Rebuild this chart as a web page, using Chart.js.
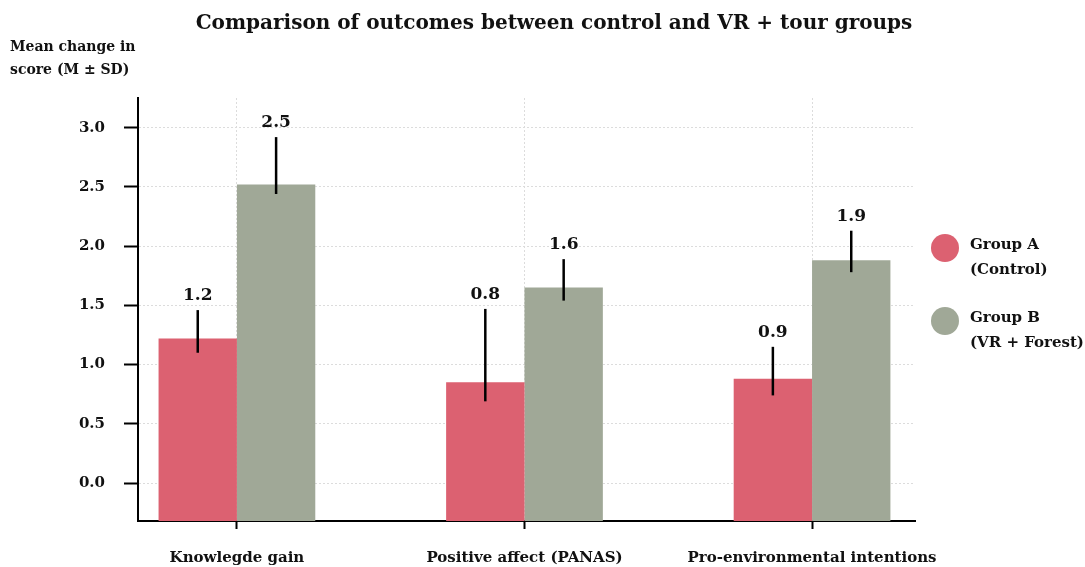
<!DOCTYPE html>
<html lang="en">
<head>
    <meta charset="UTF-8">
    <title>Comparison of outcomes</title>
    <script src="https://cdn.jsdelivr.net/npm/chart.js"></script>
    <style>
        html, body { margin: 0; padding: 0; background: #fff; }
        .wrap { position: relative; width: 1085px; height: 567px; overflow: hidden; }
        canvas { display: block; }
        .title {
            position: absolute; left: 0; top: 10px; width: 1108px; text-align: center;
            font: bold 20px 'DejaVu Serif', serif; color: #111; white-space: nowrap;
        }
        .ytitle {
            position: absolute; left: 10px; top: 35px;
            font: bold 14px 'DejaVu Serif', serif; line-height: 23px; color: #111;
        }
        .legend { position: absolute; left: 931px; top: 232px; font: bold 15px 'DejaVu Serif', serif; color: #111; }
        .legend .item { position: relative; padding-left: 39px; line-height: 25px; margin-bottom: 23px; }
        .legend .dot { position: absolute; left: 0; top: 2px; width: 28px; height: 28px; border-radius: 50%; }
    </style>
</head>
<body>
    <div class="wrap">
        <canvas id="outcomes" width="1085" height="567"></canvas>
        <div class="title">Comparison of outcomes between control and VR + tour groups</div>
        <div class="ytitle">Mean change in<br>score (M ± SD)</div>
        <div class="legend" id="legend"></div>
    </div>
    <script>
        const categories = ['Knowlegde gain', 'Positive affect (PANAS)', 'Pro-environmental intentions'];
        const groupNames = [['Group A', '(Control)'], ['Group B', '(VR + Forest)']];

        const groupA = [1.22, 0.85, 0.88];
        const groupB = [2.52, 1.65, 1.88];

        // error bar ends
        const errLowA = [1.10, 0.69, 0.74];
        const errHighA = [1.46, 1.47, 1.15];
        const errLowB = [2.44, 1.54, 1.78];
        const errHighB = [2.92, 1.89, 2.13];

        const yTicks = [0, 0.5, 1.0, 1.5, 2.0, 2.5, 3.0];
        const yMin = -0.32, yMax = 3.25;

        const colorA = 'rgb(220, 97, 113)';
        const colorB = 'rgb(160, 168, 151)';
        const serif = 'DejaVu Serif';

        const errors = [[errLowA, errHighA], [errLowB, errHighB]];

        const errorBars = {
            id: 'errorBars',
            afterDatasetsDraw(chart) {
                const ctx = chart.ctx;
                const y = chart.scales.y;
                chart.data.datasets.forEach((ds, di) => {
                    const meta = chart.getDatasetMeta(di);
                    meta.data.forEach((bar, i) => {
                        const top = y.getPixelForValue(errors[di][1][i]);
                        const bot = y.getPixelForValue(errors[di][0][i]);
                        ctx.save();
                        ctx.strokeStyle = '#000';
                        ctx.lineWidth = 2.5;
                        ctx.beginPath();
                        ctx.moveTo(bar.x, top);
                        ctx.lineTo(bar.x, bot);
                        ctx.stroke();
                        ctx.fillStyle = '#111';
                        ctx.font = 'bold 17px ' + serif;
                        ctx.textAlign = 'center';
                        ctx.textBaseline = 'bottom';
                        ctx.fillText(ds.data[i].y.toFixed(1), bar.x, top - 6);
                        ctx.restore();
                    });
                });
            }
        };

        const gridStyle = { color: '#dcdcdc', lineWidth: 1, drawTicks: true, tickColor: '#000', tickWidth: 2, tickBorderDash: [] };
        const borderStyle = { display: true, color: '#000', width: 2, dash: [2, 2] };

        new Chart(document.getElementById('outcomes'), {
            type: 'bar',
            data: {
                datasets: [
                    {
                        label: groupNames[0].join(' '),
                        data: groupA.map((v, i) => ({ x: i, y: v })),
                        backgroundColor: colorA,
                        base: yMin
                    },
                    {
                        label: groupNames[1].join(' '),
                        data: groupB.map((v, i) => ({ x: i, y: v })),
                        backgroundColor: colorB,
                        base: yMin
                    }
                ]
            },
            options: {
                responsive: false,
                animation: false,
                categoryPercentage: 0.545,
                barPercentage: 1.0,
                layout: { padding: { left: 0, right: 170, top: 98, bottom: 0 } },
                scales: {
                    x: {
                        type: 'linear',
                        offset: false,
                        min: -0.344,
                        max: 2.358,
                        afterBuildTicks: s => { s.ticks = categories.map((c, i) => ({ value: i })); },
                        afterFit: s => { s.height = 46; },
                        grid: { ...gridStyle, offset: false, tickLength: 8 },
                        border: borderStyle,
                        ticks: {
                            padding: 20,
                            color: '#111',
                            font: { family: serif, size: 15, weight: 'bold' },
                            maxRotation: 0,
                            autoSkip: false,
                            callback: v => categories[v]
                        }
                    },
                    y: {
                        min: yMin,
                        max: yMax,
                        afterBuildTicks: s => { s.ticks = yTicks.map(v => ({ value: v })); },
                        afterFit: s => { s.width = 138; },
                        grid: { ...gridStyle, tickLength: 14 },
                        border: borderStyle,
                        ticks: {
                            padding: 19,
                            color: '#111',
                            font: { family: serif, size: 15, weight: 'bold' },
                            callback: v => v.toFixed(1)
                        }
                    }
                },
                plugins: {
                    legend: { display: false },
                    tooltip: { enabled: false },
                    title: { display: false }
                }
            },
            plugins: [errorBars]
        });

        const legendEl = document.getElementById('legend');
        [colorA, colorB].forEach((c, i) => {
            const item = document.createElement('div');
            item.className = 'item';
            item.innerHTML = '<span class="dot" style="background:' + c + '"></span>' + groupNames[i].join('<br>');
            legendEl.appendChild(item);
        });
    </script>
</body>
</html>
